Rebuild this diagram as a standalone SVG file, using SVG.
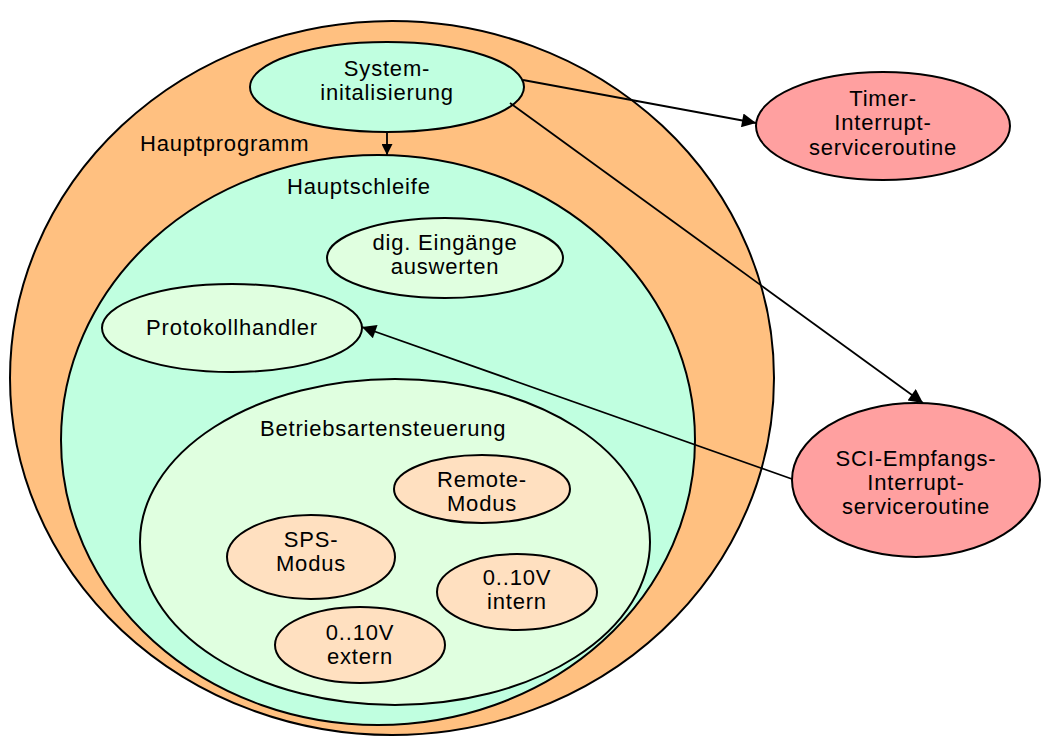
<svg xmlns="http://www.w3.org/2000/svg" width="1050" height="738" viewBox="0 0 1050 738">
<defs>
<style>
ellipse{stroke:#000;stroke-width:2}
text{font-family:"Liberation Sans",Arial,sans-serif;font-size:22px;letter-spacing:0.8px;fill:#000;text-anchor:middle}
.l{text-anchor:start}
.e{stroke:#000;stroke-width:1.8;fill:none}
</style>
<marker id="a" viewBox="0 0 10 10" refX="10" refY="5" markerWidth="13" markerHeight="11" markerUnits="userSpaceOnUse" orient="auto"><path d="M0,0L10,5L0,10z" fill="#000"/></marker>
<marker id="b" viewBox="0 0 10 10" refX="10" refY="5" markerWidth="18" markerHeight="14" markerUnits="userSpaceOnUse" orient="auto"><path d="M0,0L10,5L0,10z" fill="#000"/></marker>
</defs>
<rect width="1050" height="738" fill="#fff"/>
<g id="hauptprogramm"><ellipse cx="392" cy="378" rx="382" ry="357" fill="#FFC080"/><text class="l" x="140" y="151">Hauptprogramm</text></g>
<g id="hauptschleife"><ellipse cx="378" cy="440" rx="317" ry="285" fill="#C0FFE0"/><text class="l" x="287" y="194">Hauptschleife</text></g>
<g id="betriebsartensteuerung"><ellipse cx="395" cy="542" rx="255" ry="163" fill="#E0FFE0"/><text class="l" x="260" y="436">Betriebsartensteuerung</text></g>
<g id="systeminit"><ellipse cx="387" cy="87" rx="137" ry="45" fill="#C0FFE0"/><text x="387" y="76">System-</text><text x="387" y="100">initalisierung</text></g>
<g id="timer"><ellipse cx="883" cy="126" rx="127" ry="54" fill="#FFA0A0"/><text x="883" y="106">Timer-</text><text x="883" y="130">Interrupt-</text><text x="883" y="155">serviceroutine</text></g>
<g id="sci"><ellipse cx="916" cy="480" rx="124" ry="77" fill="#FFA0A0"/><text x="916" y="466">SCI-Empfangs-</text><text x="916" y="490">Interrupt-</text><text x="916" y="514">serviceroutine</text></g>
<g id="eingaenge"><ellipse cx="445" cy="258" rx="118" ry="40" fill="#E0FFE0"/><text x="445" y="250">dig. Eingänge</text><text x="445" y="274">auswerten</text></g>
<g id="protokollhandler"><ellipse cx="232" cy="328" rx="130" ry="44" fill="#E0FFE0"/><text x="232" y="335">Protokollhandler</text></g>
<g id="remote"><ellipse cx="482" cy="489" rx="88" ry="34" fill="#FFE0C0"/><text x="482" y="487">Remote-</text><text x="482" y="511">Modus</text></g>
<g id="sps"><ellipse cx="311" cy="557" rx="84" ry="42" fill="#FFE0C0"/><text x="311" y="547">SPS-</text><text x="311" y="571">Modus</text></g>
<g id="intern"><ellipse cx="517" cy="592" rx="80" ry="38" fill="#FFE0C0"/><text x="517" y="585">0..10V</text><text x="517" y="609">intern</text></g>
<g id="extern"><ellipse cx="360" cy="645" rx="85" ry="38" fill="#FFE0C0"/><text x="360" y="640">0..10V</text><text x="360" y="664">extern</text></g>
<g id="connectors">
<line class="e" x1="387" y1="132" x2="387" y2="155" marker-end="url(#a)"/>
<line class="e" x1="523" y1="80" x2="756" y2="123" marker-end="url(#b)"/>
<line class="e" x1="510" y1="103" x2="923" y2="403" marker-end="url(#b)"/>
<line class="e" x1="792" y1="479" x2="362" y2="327" marker-end="url(#b)"/>
</g>
</svg>
